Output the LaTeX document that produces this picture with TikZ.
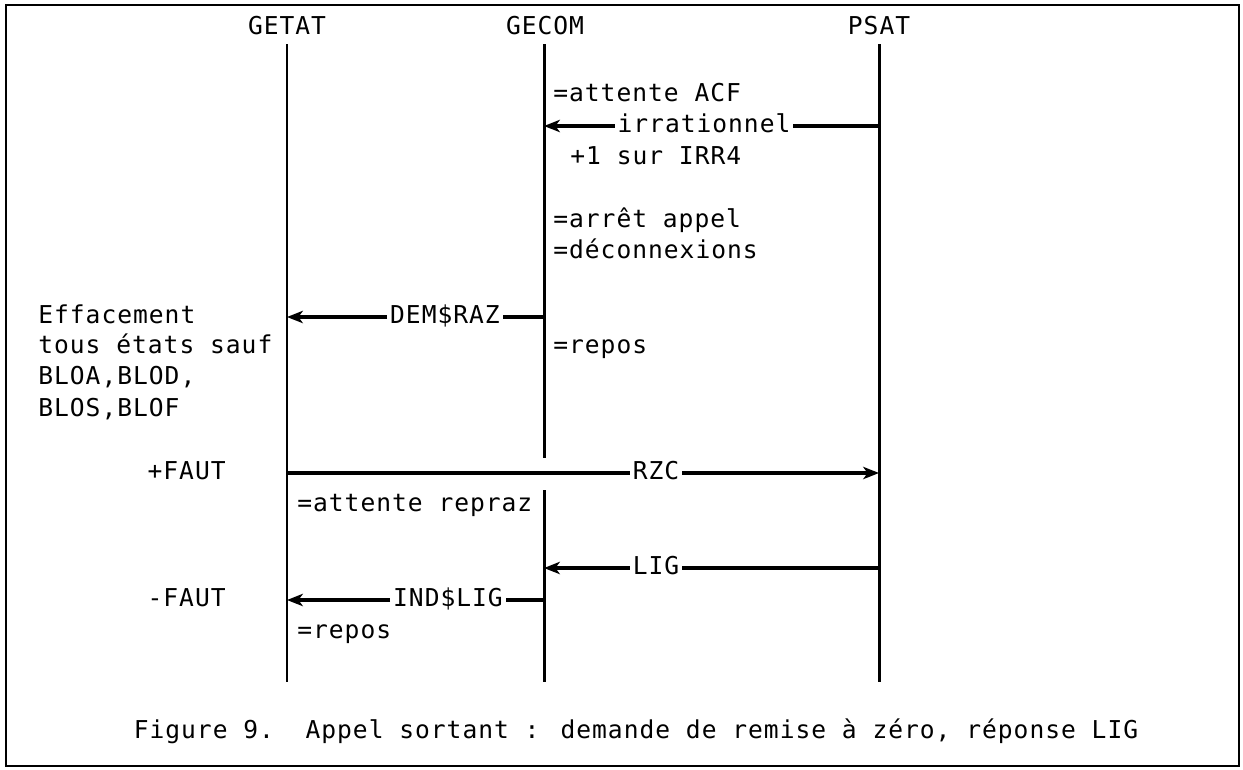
\documentclass[tikz,border=0pt]{standalone}
\usepackage{fontspec}
\setmainfont{DejaVu Sans Mono}[LetterSpace=4]
\usetikzlibrary{arrows.meta}
\begin{document}
\begin{tikzpicture}[>={Stealth[length=9pt,width=7pt,inset=2.5pt]},
  font=\fontsize{14}{16}\selectfont,
  every node/.style={inner sep=0pt, text height=10.5pt, text depth=3pt},
  life/.style={line width=1.7pt},
  msg/.style={line width=1.8pt},
  lbl/.style={inner xsep=1.5pt}]
\useasboundingbox (0,0) rectangle (24.86,-15.38);
\draw[line width=1.4pt] (0.12,-0.10) rectangle (24.78,-15.32);

% lifelines
\node (getat) at (5.74,-0.56) {GETAT};
\node (gecom) at (10.90,-0.56) {GECOM};
\node (psat) at (17.58,-0.56) {PSAT};
\coordinate (getat-top) at (5.74,-0.88);
\coordinate (getat-bot) at (5.74,-13.64);
\coordinate (gecom-top) at (10.88,-0.88);
\coordinate (gecom-brk) at (10.88,-9.16);
\coordinate (gecom-res) at (10.88,-9.80);
\coordinate (gecom-bot) at (10.88,-13.64);
\coordinate (psat-top) at (17.58,-0.88);
\coordinate (psat-bot) at (17.58,-13.64);
\draw[life] (getat-top) -- (getat-bot);
\draw[life] (gecom-top) -- (gecom-brk);
\draw[life] (gecom-res) -- (gecom-bot);
\draw[life] (psat-top) -- (psat-bot);

% states
\node[anchor=west] (acf) at (11.06,-1.90) {=attente ACF};
\node[anchor=west] (irr4) at (11.40,-3.16) {+1 sur IRR4};
\node[anchor=west] (arret) at (11.06,-4.42) {=arrêt appel};
\node[anchor=west] (decon) at (11.06,-5.04) {=déconnexions};
\node[anchor=west] (repos1) at (11.06,-6.94) {=repos};
\node[anchor=west] (eff1) at (0.76,-6.34) {Effacement};
\node[anchor=west] (eff2) at (0.76,-6.94) {tous états sauf};
\node[anchor=west] (eff3) at (0.76,-7.56) {BLOA,BLOD,};
\node[anchor=west] (eff4) at (0.76,-8.20) {BLOS,BLOF};
\node[anchor=east] (pfaut) at (4.52,-9.46) {+FAUT};
\node[anchor=west] (repraz) at (5.94,-10.10) {=attente repraz};
\node[anchor=east] (mfaut) at (4.52,-12.00) {-FAUT};
\node[anchor=west] (repos2) at (5.94,-12.64) {=repos};

% messages
\node[lbl] (irr) at (14.08,-2.52) {irrationnel};
\draw[msg] (psat-top |- irr) -- (irr);
\draw[msg,->] (irr) -- (gecom-top |- irr);
\node[lbl] (demraz) at (8.90,-6.34) {DEM\$RAZ};
\draw[msg] (gecom-top |- demraz) -- (demraz);
\draw[msg,->] (demraz) -- (getat-top |- demraz);
\node[lbl] (rzc) at (13.12,-9.46) {RZC};
\draw[msg] (getat-top |- rzc) -- (rzc);
\draw[msg,->] (rzc) -- (psat-top |- rzc);
\node[lbl] (lig) at (13.12,-11.36) {LIG};
\draw[msg] (psat-top |- lig) -- (lig);
\draw[msg,->] (lig) -- (gecom-top |- lig);
\node[lbl] (indlig) at (8.96,-12.00) {IND\$LIG};
\draw[msg] (gecom-top |- indlig) -- (indlig);
\draw[msg,->] (indlig) -- (getat-top |- indlig);

\node (caption) at (12.72,-14.64) {Figure 9.\ \ Appel sortant : demande de remise à zéro, réponse LIG};
\end{tikzpicture}
\end{document}
